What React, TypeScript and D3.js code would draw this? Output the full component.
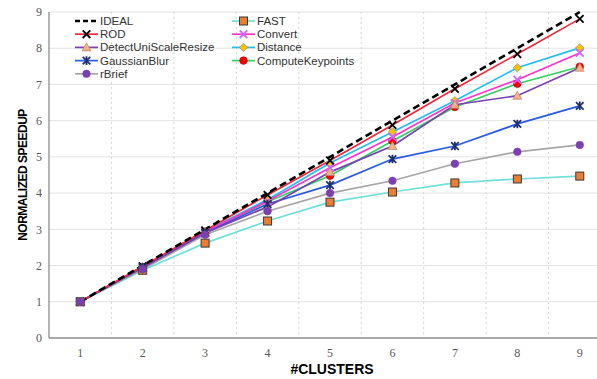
import React from 'react';
import * as d3 from 'd3';

const clusters = [1, 2, 3, 4, 5, 6, 7, 8, 9];
const yTicks = [0, 1, 2, 3, 4, 5, 6, 7, 8, 9];

const ideal = [1, 2, 3, 4, 5, 6, 7, 8, 9];
const rod = [1, 1.98, 2.97, 3.95, 4.9, 5.88, 6.88, 7.84, 8.81];
const detectUniScaleResize = [1, 1.94, 2.9, 3.62, 4.58, 5.3, 6.44, 6.69, 7.46];
const gaussianBlur = [1, 1.95, 2.9, 3.7, 4.22, 4.94, 5.3, 5.91, 6.41];
const rBrief = [1, 1.9, 2.85, 3.5, 4.0, 4.34, 4.81, 5.14, 5.33];
const fast = [1, 1.87, 2.62, 3.23, 3.75, 4.03, 4.28, 4.39, 4.47];
const convert = [1, 1.96, 2.93, 3.78, 4.7, 5.55, 6.49, 7.13, 7.87];
const distance = [1, 1.97, 2.95, 3.82, 4.83, 5.69, 6.55, 7.46, 8.01];
const computeKeypoints = [1, 1.95, 2.92, 3.76, 4.48, 5.44, 6.38, 7.02, 7.49];

type Marker = 'none' | 'x' | 'triangle' | 'star' | 'circle' | 'square' | 'diamond';

interface Series {
  name: string;
  values: number[];
  line: string;
  marker: Marker;
  fill: string;
  edge: string;
  dashed?: boolean;
}

const series: Series[] = [
  { name: 'IDEAL', values: ideal, line: '#000', marker: 'none', fill: '#000', edge: '#000', dashed: true },
  { name: 'ROD', values: rod, line: '#f0283c', marker: 'x', fill: '#000', edge: '#1a1a1a' },
  { name: 'DetectUniScaleResize', values: detectUniScaleResize, line: '#7a3fb0', marker: 'triangle', fill: '#f4b183', edge: '#b08a70' },
  { name: 'GaussianBlur', values: gaussianBlur, line: '#2a5ae0', marker: 'star', fill: '#1f3070', edge: '#1f3070' },
  { name: 'rBrief', values: rBrief, line: '#a6a6a6', marker: 'circle', fill: '#7a3fb0', edge: '#7a3fb0' },
  { name: 'FAST', values: fast, line: '#6fe0d8', marker: 'square', fill: '#ed7d31', edge: '#3a3a3a' },
  { name: 'Convert', values: convert, line: '#ff33cc', marker: 'x', fill: '#cc66ff', edge: '#cc66ff' },
  { name: 'Distance', values: distance, line: '#20c0f0', marker: 'diamond', fill: '#ffc000', edge: '#8a8a8a' },
  { name: 'ComputeKeypoints', values: computeKeypoints, line: '#33d060', marker: 'circle', fill: '#ff0000', edge: '#a00000' },
];

// marker draw order, back to front
const markerOrder = ['ComputeKeypoints', 'Distance', 'Convert', 'ROD', 'DetectUniScaleResize', 'GaussianBlur', 'FAST', 'rBrief'];

const W = 597;
const H = 379;

function MarkerShape({ s, x, y }: { s: Series; x: number; y: number }) {
  const r = 3.8;
  switch (s.marker) {
    case 'x':
      return (
        <path d={`M${x - r},${y - r}L${x + r},${y + r}M${x - r},${y + r}L${x + r},${y - r}`} stroke={s.fill} strokeWidth={1.8} />
      );
    case 'star':
      return (
        <path
          d={`M${x - r},${y - r}L${x + r},${y + r}M${x - r},${y + r}L${x + r},${y - r}M${x},${y - r - 0.5}L${x},${y + r + 0.5}`}
          stroke={s.fill}
          strokeWidth={1.8}
        />
      );
    case 'triangle':
      return (
        <path d={`M${x},${y - 4.5}L${x + 4.5},${y + 3.5}L${x - 4.5},${y + 3.5}Z`} fill={s.fill} stroke={s.edge} strokeWidth={0.7} />
      );
    case 'circle':
      return <circle cx={x} cy={y} r={3.8} fill={s.fill} stroke={s.edge} strokeWidth={0.6} />;
    case 'square':
      return <rect x={x - 4} y={y - 4} width={8} height={8} fill={s.fill} stroke={s.edge} strokeWidth={1} />;
    case 'diamond':
      return (
        <path d={`M${x},${y - 4.2}L${x + 4.2},${y}L${x},${y + 4.2}L${x - 4.2},${y}Z`} fill={s.fill} stroke={s.edge} strokeWidth={0.7} />
      );
    default:
      return null;
  }
}

export default function App() {
  const x = d3.scaleLinear().domain([0.5, 9.5]).range([49, 611]);
  const y = d3.scaleLinear().domain([0, 9]).range([338, 12]);

  const line = d3
    .line<number>()
    .x((_, i) => x(clusters[i]))
    .y((d) => y(d));

  const gridX = d3.range(1.5, 9.5, 1);

  const legendRows = [
    { col: 0, row: 0 },
    { col: 0, row: 1 },
    { col: 0, row: 2 },
    { col: 0, row: 3 },
    { col: 0, row: 4 },
    { col: 1, row: 0 },
    { col: 1, row: 1 },
    { col: 1, row: 2 },
    { col: 1, row: 3 },
  ];

  return (
    <svg width={W} height={H} style={{ position: 'absolute', left: 0, top: 0, background: '#fff' }}>
      {/* grid */}
      <g>
        {yTicks.slice(1).map((t) => (
          <line key={t} x1={x(0.5)} x2={W} y1={y(t)} y2={y(t)} stroke="#e3e3e3" strokeWidth={1} />
        ))}
        {gridX.map((g) => (
          <line key={g} x1={x(g)} x2={x(g)} y1={y(9)} y2={y(0)} stroke="#d5d5d5" strokeDasharray="2,3" strokeWidth={1} />
        ))}
      </g>

      {/* axes */}
      <line x1={x(0.5)} x2={x(0.5)} y1={y(9)} y2={y(0)} stroke="#8c8c8c" strokeWidth={1.3} />
      <line x1={x(0.5)} x2={W} y1={y(0)} y2={y(0)} stroke="#8c8c8c" strokeWidth={1.3} />

      <g fontFamily="'Liberation Serif', serif" fontSize={12} fill="#595959">
        {yTicks.map((t) => (
          <text key={t} x={42} y={y(t)} dy="0.35em" textAnchor="end">
            {t}
          </text>
        ))}
        {clusters.map((c) => (
          <text key={c} x={x(c)} y={357} textAnchor="middle">
            {c}
          </text>
        ))}
      </g>

      <text
        transform={`translate(23,${(y(0) + y(9)) / 2}) rotate(-90)`}
        textAnchor="middle"
        dy="0.35em"
        fontFamily="'Liberation Sans', Arial, sans-serif"
        fontWeight="bold"
        fontSize={12}
        letterSpacing={-0.5}
        fill="#000"
      >
        NORMALIZED SPEEDUP
      </text>
      <text
        x={332}
        y={374}
        textAnchor="middle"
        fontFamily="'Liberation Sans', Arial, sans-serif"
        fontWeight="bold"
        fontSize={14}
        fill="#000"
      >
        #CLUSTERS
      </text>

      {/* series lines */}
      {series
        .slice()
        .reverse()
        .map((s) => (
          <path
            key={s.name}
            d={line(s.values) as string}
            fill="none"
            stroke={s.line}
            strokeWidth={s.dashed ? 2.6 : 1.7}
            strokeDasharray={s.dashed ? '7,4' : undefined}
          />
        ))}
      {markerOrder.map((name) => {
        const s = series.find((d) => d.name === name) as Series;
        return (
          <g key={s.name + '-m'}>
            {s.values.map((v, i) => (
              <MarkerShape key={i} s={s} x={x(clusters[i])} y={y(v)} />
            ))}
          </g>
        );
      })}

      {/* legend */}
      <g fontFamily="'Liberation Sans', Arial, sans-serif" fontSize={11.5} fill="#333">
        {series.map((s, i) => {
          const { col, row } = legendRows[i];
          const lx = col === 0 ? 75 : 232;
          const ly = 21 + row * 13.2;
          return (
            <g key={s.name}>
              <line
                x1={lx}
                x2={lx + 23}
                y1={ly}
                y2={ly}
                stroke={s.line}
                strokeWidth={s.dashed ? 2.6 : 1.7}
                strokeDasharray={s.dashed ? '5,3' : undefined}
              />
              <MarkerShape s={s} x={lx + 11.5} y={ly} />
              <text x={lx + 25} y={ly} dy="0.35em">
                {s.name}
              </text>
            </g>
          );
        })}
      </g>
    </svg>
  );
}
